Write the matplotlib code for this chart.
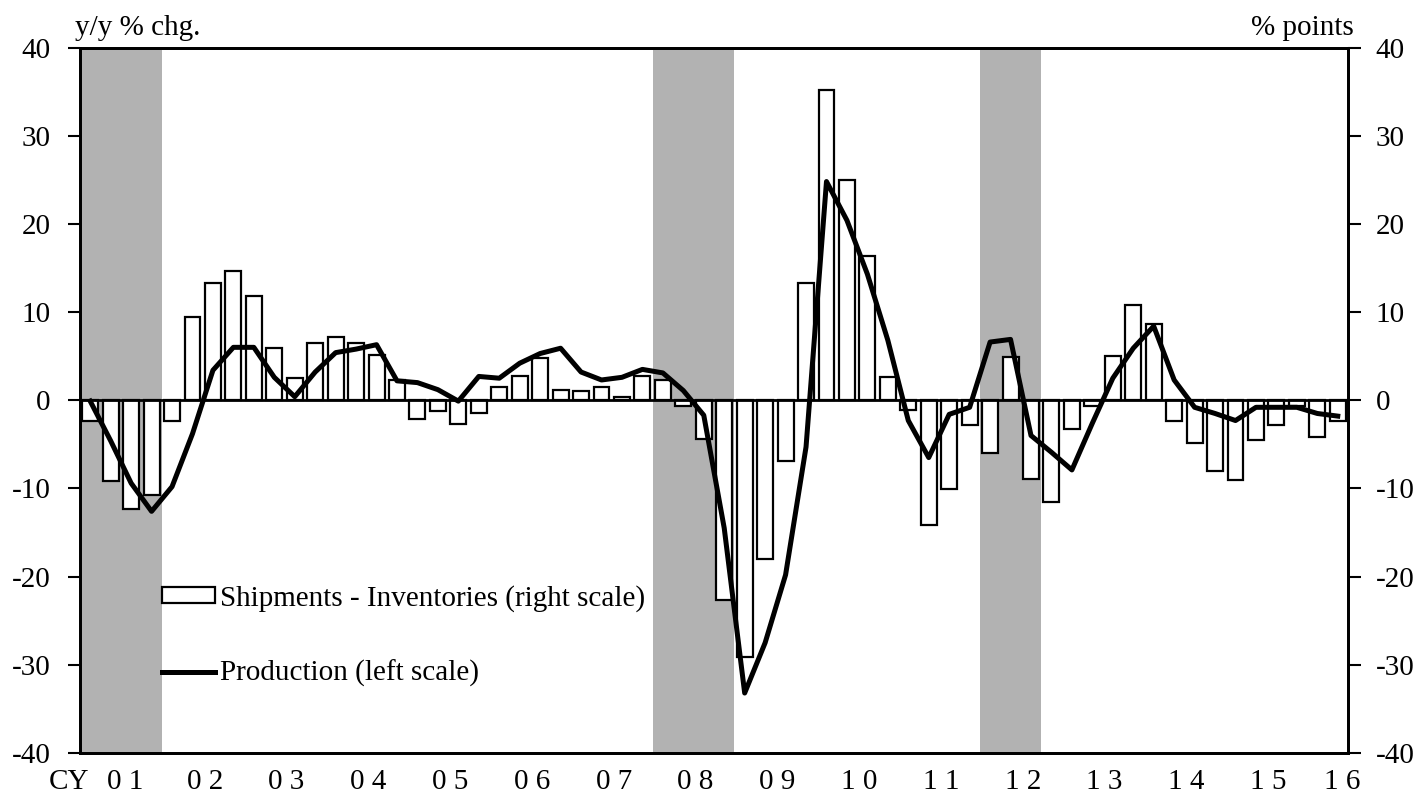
import matplotlib.pyplot as plt
import numpy as np
from matplotlib.patches import Patch
from matplotlib.lines import Line2D

plt.rcParams['font.family'] = ['Liberation Serif', 'DejaVu Serif']
plt.rcParams['font.size'] = 21
plt.rcParams['axes.unicode_minus'] = False

# Quarterly data, 2001Q1 - 2016Q2
# Shipments - Inventories (% points, right scale)
ship_inv = [-2.3, -9.2, -12.3, -10.8,
            -2.3, 9.4, 13.3, 14.6,
            11.8, 5.9, 2.5, 6.5,
            7.2, 6.5, 5.1, 2.3,
            -2.1, -1.2, -2.7, -1.4,
            1.5, 2.7, 4.8, 1.2,
            1.1, 1.5, 0.4, 2.8,
            2.3, -0.7, -4.4, -22.6,
            -29.1, -18.0, -6.9, 13.3,
            35.2, 25.0, 16.4, 2.6,
            -1.1, -14.2, -10.1, -2.8,
            -6.0, 4.9, -8.9, -11.5,
            -3.3, -0.6, 5.0, 10.8,
            8.7, -2.3, -4.9, -8.0,
            -9.0, -4.5, -2.8, -0.7,
            -4.2, -2.3]

# Production (y/y % chg., left scale)
production = [-0.1, -4.6, -9.4, -12.6,
              -9.8, -3.8, 3.4, 6.0,
              6.0, 2.6, 0.4, 3.2,
              5.4, 5.8, 6.3, 2.2,
              2.0, 1.2, -0.1, 2.7,
              2.5, 4.2, 5.3, 5.9,
              3.2, 2.3, 2.6, 3.5,
              3.1, 1.1, -1.7, -14.5,
              -33.2, -27.5, -19.8, -5.3,
              24.8, 20.4, 14.3, 6.8,
              -2.3, -6.5, -1.6, -0.8,
              6.6, 6.9, -4.0, -5.9,
              -7.9, -2.6, 2.5, 5.9,
              8.4, 2.3, -0.8, -1.5,
              -2.3, -0.8, -0.8, -0.8,
              -1.5, -1.8]

years = ['0 1', '0 2', '0 3', '0 4', '0 5', '0 6', '0 7', '0 8',
         '0 9', '1 0', '1 1', '1 2', '1 3', '1 4', '1 5', '1 6']

# shaded periods (first quarter index, number of quarters)
shaded = [(0, 4), (28, 4), (44, 3)]

n = len(ship_inv)
x = np.arange(n)

fig = plt.figure(figsize=(14.18, 7.99), dpi=100)
ax = fig.add_axes([80 / 1418, 1 - 753 / 799, 1268 / 1418, 705.5 / 799])
ax2 = ax.twinx()

# bars and shading on the right axis, line on the left axis (drawn on top)
ax.set_zorder(ax2.get_zorder() + 1)
ax.patch.set_visible(False)

for start, length in shaded:
    ax2.axvspan(start - 0.5, start + length - 0.5, color='#b2b2b2', lw=0, zorder=0)

ax2.bar(x, ship_inv, width=0.78, color='white', edgecolor='black', linewidth=1.6, zorder=2)
ax.axhline(0, color='black', lw=2, zorder=1)
ax.plot(x, production, color='black', lw=3.6, zorder=3)

for a in (ax, ax2):
    a.set_ylim(-40, 40)
    a.set_yticks(np.arange(-40, 41, 10))
    a.set_xlim(-0.5, n - 0.5)
    for s in a.spines.values():
        s.set_linewidth(2)

ax.tick_params(axis='y', direction='out', length=9, width=1.5, pad=12)
ax2.tick_params(axis='y', direction='out', length=9, width=1.5, pad=11)

# year boundaries as inward ticks, labels at year centres
ax.set_xticks(np.arange(4, n, 4) - 0.5)
ax.set_xticklabels([])
ax.tick_params(axis='x', which='major', direction='in', length=8, width=1.5)
ax2.set_xticks([])

label_pos = [4 * k + 1.6 for k in range(len(years) - 1)] + [61.2]
label_pos[0] = 1.7
xt = ax.get_xaxis_transform()
for pos, lab in zip(label_pos, years):
    ax.text(pos, -0.041, lab, transform=xt, ha='center', va='center')
ax.text(-0.06, -0.041, 'CY', transform=xt, ha='right', va='center')

fig.text(75 / 1418, 1 - 35 / 799, 'y/y % chg.', ha='left', va='baseline')
fig.text(1354 / 1418, 1 - 35 / 799, '% points', ha='right', va='baseline')

handles = [Patch(facecolor='white', edgecolor='black', linewidth=1.6),
           Line2D([0], [0], color='black', lw=3.6)]
labels = ['Shipments - Inventories (right scale)', 'Production (left scale)']
ax.legend(handles, labels, loc='upper left', bbox_to_anchor=(162 / 1418, 1 - 585 / 799),
          bbox_transform=fig.transFigure, frameon=False, borderpad=0, borderaxespad=0,
          handlelength=1.8, handleheight=0.45, handletextpad=0.2, labelspacing=1.65)

fig.savefig('out.png', dpi=100)
